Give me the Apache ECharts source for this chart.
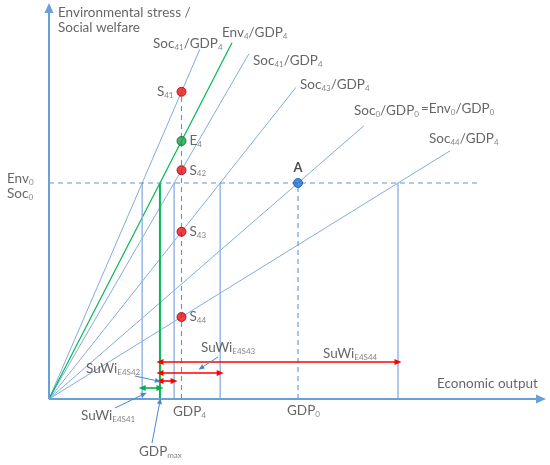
<!DOCTYPE html>
<html><head><meta charset="utf-8">
<script src="https://cdn.jsdelivr.net/npm/echarts@6/dist/echarts.min.js"></script>
<style>html,body{margin:0;padding:0;background:#fff}#c{width:550px;height:465px}</style>
</head><body><div id="c"></div>
<script>
// ---- data (conceptual units) ----
const gdp4 = 26.5;           // GDP_4
const gdp0 = 49.8;           // GDP_0
const env0 = 54;             // Env_0 = Soc_0
const sNames = ['S{s|41}', 'S{s|42}', 'S{s|43}', 'S{s|44}'];
const sValues = [76.8, 57.2, 41.8, 20.5];   // social welfare at GDP_4
const e4Value = 64.5;                       // environmental stress at GDP_4
const sRayEndX = [30.2, 40, 49.4, 80.2];
const envRayEndX = 36.6;
const soc0RayEndX = 63;
const env0LineEndX = 85.8;
const axisEndX = 98.4, axisEndY = 97.75;
const arrowRowsY = [9.25, 6.5, 4.5, 2.75];  // SuWi E4S44, E4S43, E4S42, E4S41
const annotations = [
  ['Environmental stress /', 1.8, 96.5],
  ['Social welfare', 1.8, 92.75],
  ['Soc{s|41}/GDP{s|4}', 20.8, 88.75],
  ['Env{s|4}/GDP{s|4}', 34.6, 91.5],
  ['Soc{s|41}/GDP{s|4}', 40.8, 84.5],
  ['Soc{s|43}/GDP{s|4}', 50.2, 78.5],
  ['Soc{s|0}/GDP{s|0}', 61, 72],
  ['=Env{s|0}/GDP{s|0}', 74.4, 72.5],
  ['Soc{s|44}/GDP{s|4}', 76, 65],
  ['Env{s|0}', -8.4, 55],
  ['Soc{s|0}', -8.4, 51.25],
  ['GDP{s|4}', 24.8, -3.25],
  ['GDP{s|0}', 47.6, -3],
  ['GDP{s|max}', 18, -13.25],
  ['Economic output', 77.6, 3.75],
  ['SuWi{s|E4S41}', 6.4, -4.25],
  ['SuWi{s|E4S42}', 7.4, 7.5],
  ['SuWi{s|E4S43}', 30.4, 12.75],
  ['SuWi{s|E4S44}', 54.8, 11.25]
];
const pointers = [
  [[33.8, 10.5], [30.4, 7.75]],
  [[17.2, 5.75], [21.8, 4.5]],
  [[13.2, -2.25], [19, 1.25]],
  [[20.6, -11], [22.2, -0.5]]
];

// ---- derived ----
const crossX = v => env0 * gdp4 / v;   // where a ray through (gdp4, v) meets Env_0
const gdpMax = crossX(e4Value);
const sCross = sValues.map(crossX);

const FONT = 'Lato';
const TXT = '#404040';
const FS = 13.5;
const rich = { s: { fontSize: 8, fontFamily: FONT, color: '#666', padding: [7, 0, 0, 0] } };
const RAY = '#82acdf', VERT = '#8fb3e3', DASH = '#5f93d8', GREEN = '#00b854';

const series = [];
function seg(data, color, width, type) {
  series.push({ type: 'line', data, showSymbol: false, silent: true, clip: false,
    lineStyle: { color, width, type: type || 'solid' }, z: 2 });
}
// rays
sValues.forEach((v, i) => seg([[0, 0], [sRayEndX[i], sRayEndX[i] * v / gdp4]], RAY, 1));
seg([[0, 0], [envRayEndX, envRayEndX * e4Value / gdp4]], GREEN, 1.2);
seg([[0, 0], [soc0RayEndX, soc0RayEndX * env0 / gdp0]], RAY, 1);
// verticals at Env_0 crossings
sCross.forEach(x => seg([[x, 0], [x, env0]], VERT, 1.4));
seg([[gdpMax, 0], [gdpMax, env0]], GREEN, 2);
// dashed guides
seg([[0, env0], [env0LineEndX, env0]], DASH, 1.1, [5, 4]);
seg([[gdp4, 0], [gdp4, sValues[0]]], DASH, 1.1, [5, 4]);
seg([[gdp0, 0], [gdp0, env0]], DASH, 1.1, [5, 4]);

// axes & arrows via markLine
function mline(pairs, color, width, symbols, size) {
  series.push({ type: 'line', data: [], silent: true, z: 4,
    markLine: { silent: true, animation: false, symbol: symbols, symbolSize: size,
      label: { show: false }, lineStyle: { color, width, type: 'solid' },
      data: pairs.map(p => [{ coord: p[0] }, { coord: p[1] }]) } });
}
mline([[[0, 0], [axisEndX, 0]], [[0, 0], [0, axisEndY]]], '#6a9fd8', 2, ['none', 'triangle'], [9, 10]);
mline([
  [[gdpMax, arrowRowsY[0]], [sCross[3], arrowRowsY[0]]],
  [[gdpMax, arrowRowsY[1]], [sCross[2], arrowRowsY[1]]],
  [[gdpMax, arrowRowsY[2]], [sCross[1], arrowRowsY[2]]]
], '#ff0000', 1.6, ['triangle', 'triangle'], [6, 7]);
mline([[[sCross[0], arrowRowsY[3]], [gdpMax, arrowRowsY[3]]]], '#00b050', 1.6, ['triangle', 'triangle'], [6, 7]);
mline(pointers, '#4a86d0', 1, ['none', 'triangle'], [5, 6]);

// points
const pts = sValues.map((v, i) => ({ value: [gdp4, v], name: sNames[i],
  itemStyle: { color: '#ee1111', borderColor: '#a00000', borderWidth: 1 },
  label: { position: i === 0 ? 'left' : 'right' } }));
pts.push({ value: [gdp4, e4Value], name: 'E{s|4}',
  itemStyle: { color: '#1aa14a', borderColor: '#0b5f2a', borderWidth: 1 }, label: { position: 'right' } });
pts.push({ value: [gdp0, env0], name: '{b|A}',
  itemStyle: { color: '#1f6fd0', borderColor: '#1456a8', borderWidth: 1 }, label: { position: 'top', distance: 4 } });
series.push({ type: 'scatter', data: pts, symbolSize: 9, silent: true, z: 6, clip: false,
  label: { show: true, formatter: p => p.name, fontFamily: FONT, fontSize: FS, color: TXT, distance: 3,
    rich: Object.assign({ b: { fontFamily: FONT, fontSize: 13, fontWeight: 'bold', color: '#222' } }, rich) } });

// text annotations
series.push({ type: 'scatter', symbolSize: 1, silent: true, z: 7, clip: false,
  itemStyle: { color: 'rgba(0,0,0,0)' },
  data: annotations.map(a => ({ value: [a[1], a[2]], name: a[0] })),
  label: { show: true, position: 'inside', align: 'left', verticalAlign: 'middle',
    formatter: p => p.name, fontFamily: FONT, fontSize: FS, color: TXT, rich } });

const chart = echarts.init(document.getElementById('c'));
chart.setOption({
  animation: false,
  grid: { left: 0, right: 0, top: 0, bottom: 0 },
  xAxis: { type: 'value', min: -9.8, max: 100.2, show: false },
  yAxis: { type: 'value', min: -16.5, max: 99.75, show: false },
  series
});
</script></body></html>
